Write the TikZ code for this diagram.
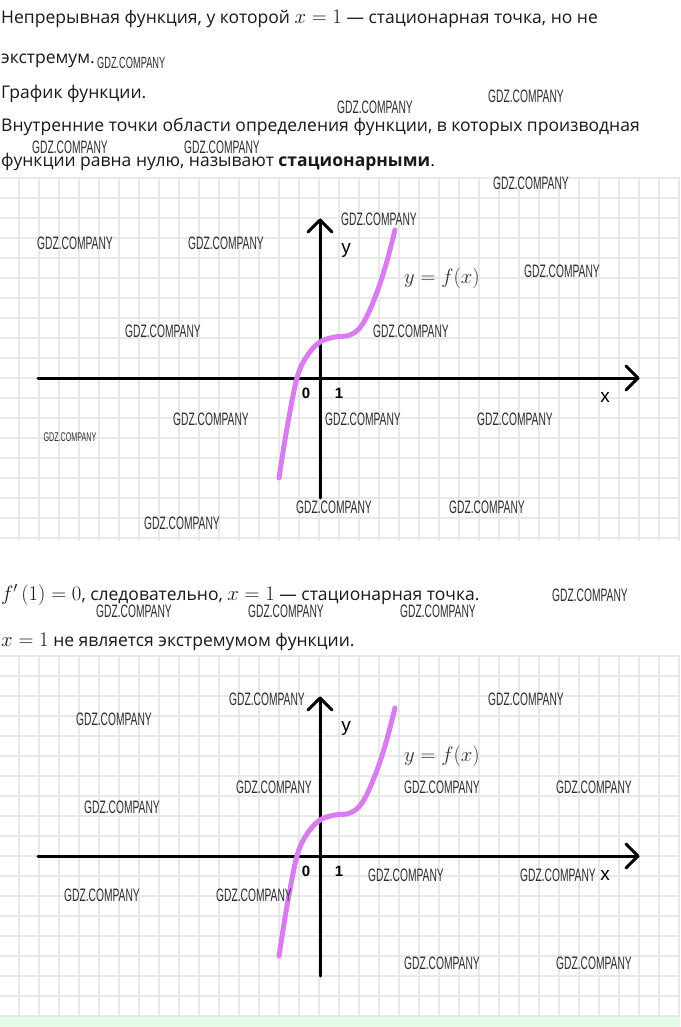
\documentclass[tikz,border=0pt]{standalone}
\usepackage{fontspec}
\setmainfont{Open Sans}
\newfontfamily\wmfont{Liberation Sans}
\newfontfamily\axfont{Liberation Sans}
\usetikzlibrary{calc}
\definecolor{gridc}{RGB}{232,232,232}
\definecolor{curvec}{RGB}{215,125,240}
\definecolor{txt}{RGB}{25,25,25}
\definecolor{wmc}{RGB}{45,45,45}
\definecolor{band}{RGB}{228,251,232}
\newcommand\wmtext[1][1]{\scalebox{#1}{\scalebox{0.57}[1]{\wmfont\fontsize{18}{18}\selectfont GDZ.COMPANY}}}
\newcommand\bm[1]{{\fontsize{21.5}{20}\selectfont$#1$}}
\tikzset{
  gridline/.style={gridc, line width=1.3pt},
  axis/.style={black, line width=3pt, line cap=round, line join=round},
  fcurve/.style={curvec, line width=5pt, line cap=round},
  bodytext/.style={anchor=base west, inner sep=0pt, text=txt, font=\fontsize{17.5}{20}\selectfont},
  wm/.style={inner sep=0pt, text=wmc},
  axlabel/.style={inner sep=0pt, font=\axfont\fontsize{19}{19}\selectfont},
  numlabel/.style={inner sep=0pt, font=\axfont\bfseries\fontsize{15}{15}\selectfont},
  fxlabel/.style={inner sep=0pt, text=black!80, font=\fontsize{22.5}{22}\selectfont},
}
\begin{document}
\begin{tikzpicture}[x=1pt,y=-1pt]
\useasboundingbox (0,0) rectangle (680,1027);
\fill[white] (0,0) rectangle (680,1027);
% grid 1
\begin{scope}
\clip (0,177) rectangle (680,541);
\foreach \x in {19,39,...,679} \draw[gridline] (\x,177) -- (\x,541);
\foreach \y in {178,198,...,538} \draw[gridline] (0,\y) -- (680,\y);
\end{scope}
% grid 2
\begin{scope}
\clip (0,655) rectangle (680,1017);
\foreach \x in {19,39,...,679} \draw[gridline] (\x,655) -- (\x,1017);
\foreach \y in {656,676,...,1016} \draw[gridline] (0,\y) -- (680,\y);
\end{scope}
\fill[band] (0,1017) rectangle (680,1027);
% texts
\node[bodytext] (t1) at (1,24) {Непрерывная функция, у которой \bm{x=1} — стационарная точка, но не};
\node[bodytext] (t2) at (1,64) {экстремум.};
\node[bodytext] (t3) at (1,99) {График функции.};
\node[bodytext] (t4) at (1,132) {Внутренние точки области определения функции, в которых производная};
\node[bodytext] (t5) at (1,167) {функции равна нулю, называют \textbf{стационарными}.};
\node[bodytext] (t6) at (1,600) {\bm{f'\left(1\right)=0}, следовательно, \bm{x=1} — стационарная точка.};
\node[bodytext] (t7) at (1,646) {\bm{x=1} не является экстремумом функции.};
% two plots
\foreach \dy/\p in {0/a,478/b}{
  \begin{scope}[yshift=-\dy pt]
    \coordinate (xl\p) at (38,378);
    \coordinate (xt\p) at (638,378);
    \coordinate (yb\p) at (320,498);
    \coordinate (yt\p) at (320,220);
    \draw[axis] (xl\p) -- (xt\p);
    \draw[axis] (xt\p) ++(-12,-12) -- (xt\p) -- ++(-12,12);
    \draw[axis] (yb\p) -- (yt\p);
    \draw[axis] (yt\p) ++(-12,12) -- (yt\p) -- ++(12,12);
    \draw[fcurve] plot[smooth, tension=0.6] coordinates {(279,478) (287,428) (297,378) (307,356) (320,342) (335,337) (350,335) (362,325) (374,300) (385,268) (395,230)};
    \node[axlabel] (ylab\p) at (346,250) {y};
    \node[axlabel] (xlab\p) at (605,397) {x};
    \node[numlabel] (zero\p) at (306,393) {0};
    \node[numlabel] (one\p) at (339,393) {1};
    \node[fxlabel] (fx\p) at (442,278) {$y=f(x)$};
  \end{scope}
}
% watermarks
\foreach \x/\y [count=\i] in {375/107,526/96,70/147,222/147,531/183,
  379/219,75/243,226/243,562/271,163/331,411/331,211/419,363/419,515/419,334/507,487/507,182/523,
  590/595,134/611,286/611,438/611,
  267/699,526/699,114/719,274/787,442/787,594/787,122/807,406/875,558/875,102/895,254/895,442/963,594/963}
  \node[wm] (wm\i) at (\x,\y) {\wmtext};
\node[wm, anchor=west] (wmsmall1) at ([xshift=2pt,yshift=-2pt]t2.east) {\wmtext[0.9]};
\node[wm] (wmsmall2) at (70,437) {\wmtext[0.7]};
\end{tikzpicture}
\end{document}
